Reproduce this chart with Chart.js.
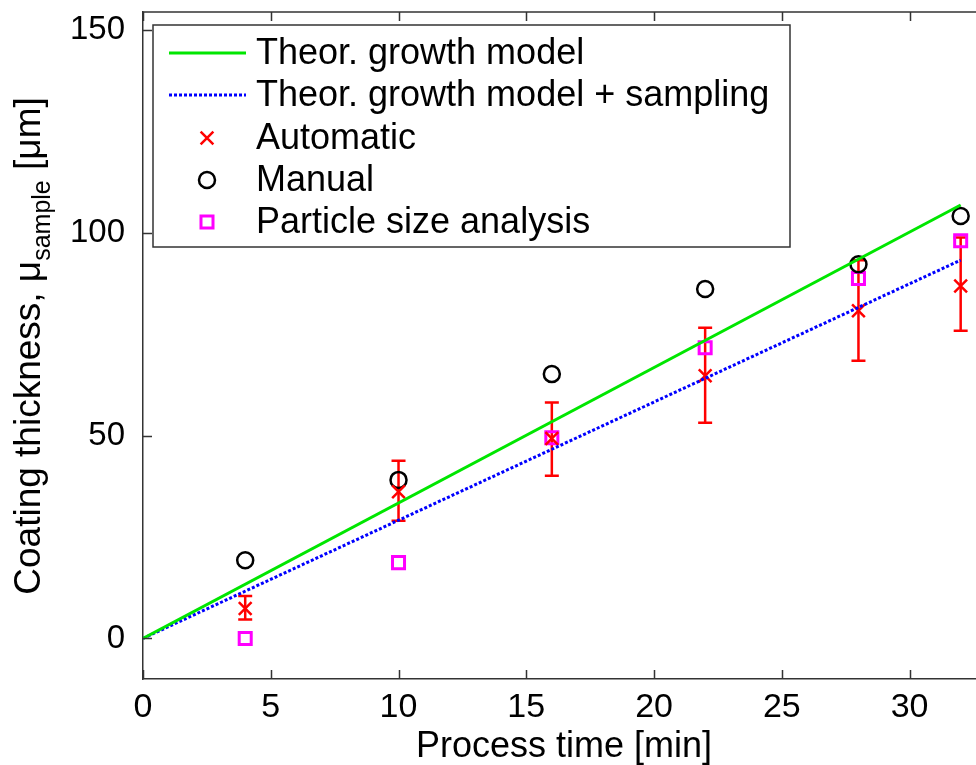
<!DOCTYPE html>
<html>
<head>
<meta charset="utf-8">
<script src="https://cdn.jsdelivr.net/npm/chart.js@4.4.0/dist/chart.umd.min.js"></script>
<style>
  html, body { margin: 0; padding: 0; background: #fff; overflow: hidden; }
  #wrap { width: 976px; height: 765px; }
</style>
</head>
<body>
<div id="wrap"><canvas id="coatChart" width="976" height="765"></canvas></div>
<script>
// data
const timePoints = [4, 10, 16, 22, 28, 32];
const automatic = [7.4, 36.2, 49.3, 64.8, 80.8, 86.9];
const autoLow = [4.7, 29.0, 40.1, 53.2, 68.5, 75.9];
const autoHigh = [10.5, 43.8, 58.2, 76.6, 93.3, 98.9];
const manual = [19.3, 39.1, 65.2, 86.2, 92.3, 104.2];
const particleSize = [0, 18.7, 49.5, 71.7, 88.8, 98.1];
const modelTimes = [0, 32];
const modelGrowth = [0, 106.9];
const modelSampling = [0, 93.3];
const xTicks = [0, 5, 10, 15, 20, 25, 30];
const yTicks = [0, 50, 100, 150];

const FONT = '"Liberation Sans", Arial, Helvetica, sans-serif';
const AXIS = '#333';

const pts = (xs, ys) => xs.map((x, i) => ({ x: x, y: ys[i] }));

const datasets = [
    {
        label: 'Theor. growth model',
        data: pts(modelTimes, modelGrowth),
        showLine: true,
        borderColor: '#00e600',
        borderWidth: 3,
        pointRadius: 0
    },
    {
        label: 'Theor. growth model + sampling',
        data: pts(modelTimes, modelSampling),
        showLine: true,
        borderColor: '#0000ff',
        borderWidth: 3,
        borderDash: [3, 2],
        pointRadius: 0
    },
    {
        label: 'Automatic',
        data: pts(timePoints, automatic),
        pointStyle: 'crossRot',
        pointRadius: 9,
        pointBorderWidth: 2.5,
        borderColor: '#ff0000',
        backgroundColor: 'transparent'
    },
    {
        label: 'Manual',
        data: pts(timePoints, manual),
        pointStyle: 'circle',
        pointRadius: 8,
        pointBorderWidth: 2.5,
        borderColor: '#000',
        backgroundColor: 'transparent'
    },
    {
        label: 'Particle size analysis',
        data: pts(timePoints, particleSize),
        pointStyle: 'rect',
        pointRadius: 8.5,
        pointBorderWidth: 3,
        borderColor: '#ff00ff',
        backgroundColor: 'transparent'
    }
];

// the axes keep no extra room for their end labels
const noPad = s => {
    s.paddingTop = 0; s.paddingBottom = 0;
    s.paddingLeft = 0; s.paddingRight = 0;
};

// error bars, inward ticks, top frame, legend box and axis titles
const extras = {
    id: 'extras',
    beforeDatasetsDraw(chart) {
        const ctx = chart.ctx;
        const xs = chart.scales.x, ys = chart.scales.y;
        ctx.save();
        ctx.strokeStyle = '#ff0000';
        ctx.lineWidth = 2.5;
        timePoints.forEach((t, i) => {
            const px = xs.getPixelForValue(t);
            const lo = ys.getPixelForValue(autoLow[i]);
            const hi = ys.getPixelForValue(autoHigh[i]);
            ctx.beginPath();
            ctx.moveTo(px, lo); ctx.lineTo(px, hi);
            ctx.moveTo(px - 7, lo); ctx.lineTo(px + 7, lo);
            ctx.moveTo(px - 7, hi); ctx.lineTo(px + 7, hi);
            ctx.stroke();
        });
        ctx.restore();
    },
    afterDraw(chart) {
        const ctx = chart.ctx;
        const a = chart.chartArea;
        const xs = chart.scales.x, ys = chart.scales.y;
        ctx.save();
        ctx.strokeStyle = AXIS;
        ctx.lineWidth = 1.5;
        ctx.beginPath();
        ctx.moveTo(a.left, a.top); ctx.lineTo(a.right, a.top);
        xTicks.forEach(v => {
            const px = Math.round(xs.getPixelForValue(v)) + 0.5;
            ctx.moveTo(px, a.bottom); ctx.lineTo(px, a.bottom - 9);
            ctx.moveTo(px, a.top); ctx.lineTo(px, a.top + 9);
        });
        yTicks.forEach(v => {
            const py = Math.round(ys.getPixelForValue(v)) + 0.5;
            ctx.moveTo(a.left, py); ctx.lineTo(a.left + 9, py);
        });
        ctx.stroke();

        // legend
        const box = { l: 153, t: 25, r: 790, b: 247 };
        ctx.fillStyle = '#fff';
        ctx.fillRect(box.l, box.t, box.r - box.l, box.b - box.t);
        ctx.strokeStyle = AXIS;
        ctx.lineWidth = 1.5;
        ctx.strokeRect(box.l, box.t, box.r - box.l, box.b - box.t);
        const rowY = [53, 95, 138, 180, 222];
        ctx.font = '36px ' + FONT;
        ctx.textBaseline = 'middle';
        ctx.textAlign = 'left';
        datasets.forEach((ds, i) => {
            const y = rowY[i];
            if (ds.showLine) {
                ctx.save();
                ctx.strokeStyle = ds.borderColor;
                ctx.lineWidth = ds.borderWidth;
                ctx.setLineDash(ds.borderDash || []);
                ctx.beginPath();
                ctx.moveTo(169, y); ctx.lineTo(246, y);
                ctx.stroke();
                ctx.restore();
            } else {
                ctx.save();
                ctx.strokeStyle = ds.borderColor;
                ctx.fillStyle = 'transparent';
                ctx.lineWidth = ds.pointBorderWidth;
                Chart.helpers.drawPoint(ctx, {
                    pointStyle: ds.pointStyle,
                    radius: ds.pointRadius,
                    rotation: 0,
                    borderWidth: ds.pointBorderWidth
                }, 207, y);
                ctx.restore();
            }
            ctx.fillStyle = '#000';
            ctx.fillText(ds.label, 256, y + 1);
        });

        // x title
        ctx.fillStyle = '#000';
        ctx.textAlign = 'center';
        ctx.textBaseline = 'alphabetic';
        ctx.font = '36px ' + FONT;
        ctx.fillText('Process time [min]', 564, 757);

        // y title with subscript
        const big = '37px ' + FONT, small = '25px ' + FONT;
        const p1 = 'Coating thickness, \u03bc', p2 = 'sample', p3 = ' [\u03bcm]';
        ctx.font = big; const w1 = ctx.measureText(p1).width, w3 = ctx.measureText(p3).width;
        ctx.font = small; const w2 = ctx.measureText(p2).width;
        ctx.translate(40, 346);
        ctx.rotate(-Math.PI / 2);
        ctx.textAlign = 'left';
        let x0 = -(w1 + w2 + w3) / 2;
        ctx.font = big; ctx.fillText(p1, x0, 0);
        ctx.font = small; ctx.fillText(p2, x0 + w1, 10);
        ctx.font = big; ctx.fillText(p3, x0 + w1 + w2, 0);
        ctx.restore();
    }
};

new Chart(document.getElementById('coatChart').getContext('2d'), {
    type: 'scatter',
    data: { datasets: datasets },
    options: {
        responsive: false,
        animation: false,
        layout: { autoPadding: false, padding: { top: 12, left: 0, right: 0, bottom: 0 } },
        scales: {
            x: {
                type: 'linear',
                min: 0,
                max: 32.6,
                afterBuildTicks: s => { s.ticks = xTicks.map(v => ({ value: v })); },
                afterFit: s => { s.height = 86; noPad(s); },
                grid: { display: false },
                border: { display: true, color: AXIS, width: 1.5 },
                ticks: {
                    color: '#000',
                    padding: 0,
                    maxRotation: 0,
                    font: { family: FONT, size: 34 }
                }
            },
            y: {
                type: 'linear',
                min: -10,
                max: 154.5,
                afterBuildTicks: s => { s.ticks = yTicks.map(v => ({ value: v })); },
                afterFit: s => { s.width = 143; noPad(s); },
                grid: { display: false },
                border: { display: true, color: AXIS, width: 1.5 },
                ticks: {
                    color: '#000',
                    padding: 10,
                    font: { family: FONT, size: 33 }
                }
            }
        },
        plugins: {
            legend: { display: false },
            tooltip: { enabled: false }
        }
    },
    plugins: [extras]
});
</script>
</body>
</html>
